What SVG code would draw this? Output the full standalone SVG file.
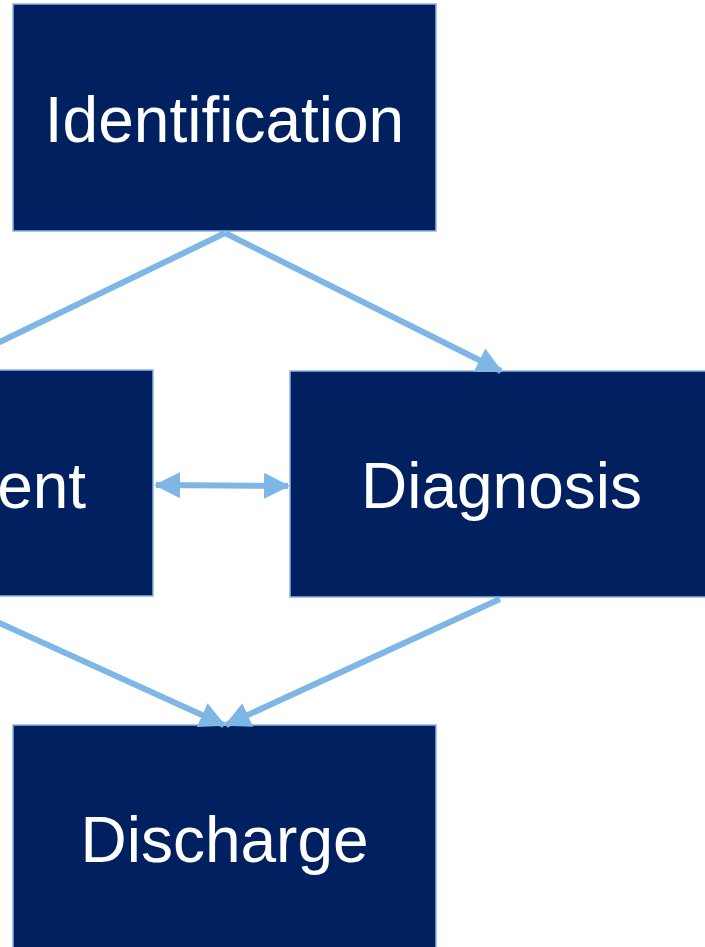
<svg xmlns="http://www.w3.org/2000/svg" width="705" height="947" viewBox="0 0 705 947">
<defs>
<style>
.box{fill:#002060;stroke:#8DB4E2;stroke-width:1.5}
.lbl{fill:#FFFFFF;font-family:"Liberation Sans",Arial,sans-serif;font-size:64px;text-anchor:middle}
.con{stroke:#7EB6E6;stroke-width:6;fill:none}
</style>
<marker id="ah" markerUnits="userSpaceOnUse" markerWidth="26" markerHeight="26" viewBox="0 0 26 26" refX="24" refY="13" orient="auto-start-reverse">
<path d="M0,0 L26,13 L0,26 Z" fill="#7EB6E6"/>
</marker>
</defs>
<g id="identification"><rect class="box" x="13" y="4" width="423" height="227"/><text class="lbl" x="224.5" y="142">Identification</text></g>
<g id="treatment"><rect class="box" x="-270" y="370" width="423" height="226"/><text class="lbl" x="-58.5" y="508">Treatment</text></g>
<g id="diagnosis"><rect class="box" x="290" y="371" width="423" height="226"/><text class="lbl" x="501.5" y="508">Diagnosis</text></g>
<g id="discharge"><rect class="box" x="13" y="725" width="423" height="227"/><text class="lbl" x="224.5" y="862">Discharge</text></g>
<g id="connectors">
<line class="con" x1="225" y1="233" x2="-58" y2="370" marker-end="url(#ah)"/>
<line class="con" x1="225" y1="233" x2="501" y2="371" marker-end="url(#ah)"/>
<line class="con" x1="156" y1="485" x2="288" y2="486" marker-start="url(#ah)" marker-end="url(#ah)"/>
<line class="con" x1="-58" y1="597" x2="224" y2="725" marker-end="url(#ah)"/>
<line class="con" x1="500" y1="599" x2="226" y2="725" marker-end="url(#ah)"/>
</g>
</svg>
